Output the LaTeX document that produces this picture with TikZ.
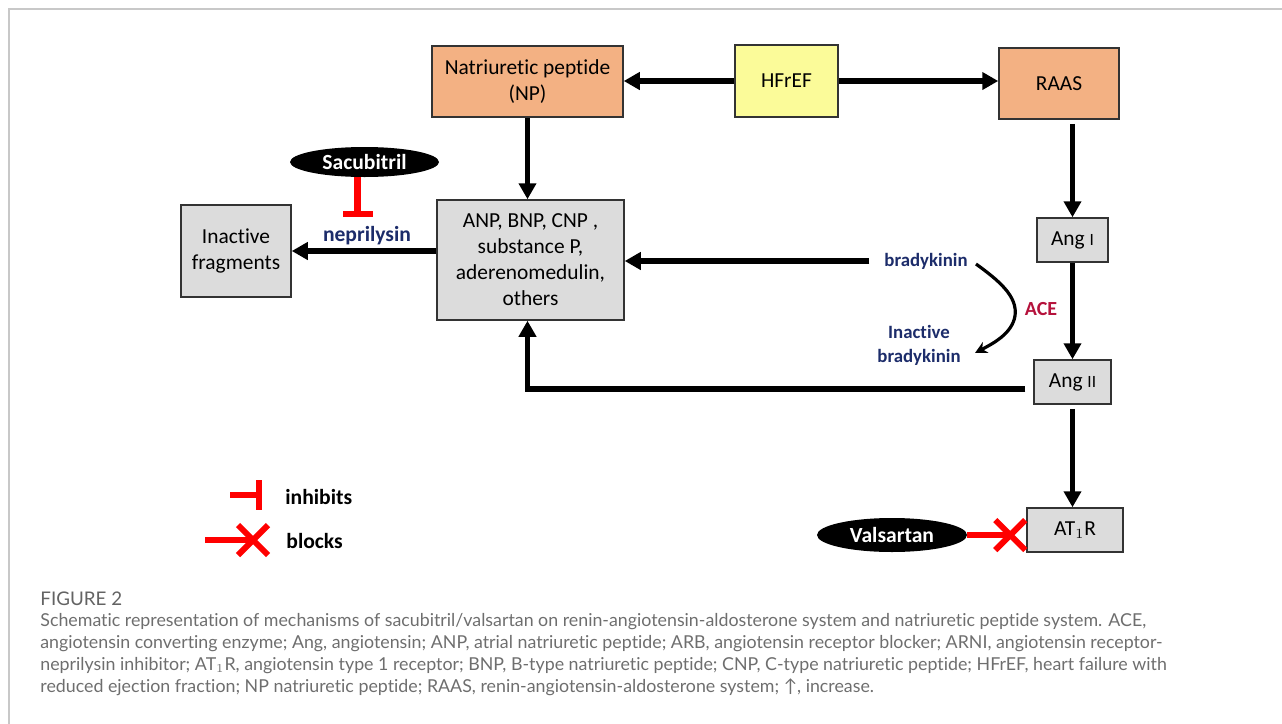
\documentclass[tikz,border=0pt]{standalone}
\usepackage{fontspec}
\setmainfont[Ligatures=NoCommon]{Carlito}
\newfontfamily\capfont[Ligatures=NoCommon]{Lato}
\usepackage{tikz}
\usetikzlibrary{calc}
\usetikzlibrary{arrows.meta}
\usetikzlibrary{shapes.geometric}
\definecolor[named]{BoxOrange}{HTML}{F3B183}
\definecolor[named]{BoxYellow}{HTML}{FBFB99}
\definecolor[named]{BoxGrey}{HTML}{DCDCDC}
\definecolor[named]{LabelNavy}{HTML}{1C2C6A}
\definecolor[named]{LabelCrimson}{HTML}{B5123C}
\definecolor[named]{FrameGrey}{HTML}{C8C8C8}
\definecolor[named]{CaptionGrey}{HTML}{6E6E6E}
\newcommand{\boxfont}{\fontsize{10.7}{13}\selectfont}
\newcommand{\romsmall}[1]{{\fontsize{8.6}{8.6}\selectfont #1}}
\tikzset{stop/.pic={ %{{{
    \draw[red,line width=3pt] (-15,-15) -- (15,15) (-15,15) -- (15,-15);
}}
%}}}
\tikzset{
  flow/.style={line width=2.6pt,-{Triangle[length=8pt,width=8.5pt]}},
  inhib/.style={red,line width=3.2pt,-{Bar[width=15pt]}}
}

\begin{document}
\begin{tikzpicture}[x=0.5pt,y=-0.5pt]
    \useasboundingbox (0,0) rectangle (1282,724);

    % Frame
    \draw[FrameGrey,line width=0.9pt] (9,724) -- (9,9) -- (1282,9);

    % Boxes
    \begin{scope}[every node/.style={draw=black!80,line width=0.75pt,font=\boxfont,align=center,inner sep=0pt}]
      \node[fill=BoxOrange,minimum width=95.5pt,minimum height=35.5pt] (np) at (527.5,81.5) {Natriuretic peptide\\(NP)};
      \node[fill=BoxYellow,minimum width=51.5pt,minimum height=36pt] (hf) at (786.5,81) {HFrEF};
      \node[fill=BoxOrange,minimum width=60pt,minimum height=35.5pt] (raas) at (1059,83.5) {RAAS};
      \node[fill=BoxGrey,minimum width=93.5pt,minimum height=60pt] (pep) at (530.5,260) {ANP, BNP, CNP ,\\substance P,\\aderenomedulin,\\others};
      \node[fill=BoxGrey,minimum width=55pt,minimum height=46pt] (frag) at (236,251) {Inactive\\fragments};
      \node[fill=BoxGrey,minimum width=35.5pt,minimum height=22pt] (angi) at (1072.5,240) {Ang \romsmall{I}};
      \node[fill=BoxGrey,minimum width=38.5pt,minimum height=22pt] (angii) at (1072.5,382) {Ang \romsmall{II}};
      \node[fill=BoxGrey,minimum width=48pt,minimum height=22pt] (at1r) at (1075,530) {AT$_1$R};
    \end{scope}

    % Drugs
    \begin{scope}[every node/.style={ellipse,fill=black,text=white,inner sep=0pt,font=\fontsize{10.8}{12}\selectfont\bfseries}]
      \node[minimum width=74.5pt,minimum height=15pt] (sac) at (364.5,162) {Sacubitril};
      \node[minimum width=75pt,minimum height=17pt] (vals) at (892,535) {Valsartan};
    \end{scope}

    % Labels
    \begin{scope}[every node/.style={text=LabelNavy,align=center,font=\fontsize{9.4}{12}\selectfont\bfseries}]
      \node (brady) at (926,261) {bradykinin};
      \node (inact) at (919,345) {Inactive\\bradykinin};
      \node[font=\fontsize{10.8}{12}\selectfont\bfseries] (nep) at (367,236) {neprilysin};
      \node[text=LabelCrimson,font=\fontsize{10}{12}\selectfont\bfseries] (ace) at (1041,309) {ACE};
    \end{scope}

    % Arrows
    \draw[flow] (hf.west) -- (hf.west -| np.east);
    \draw[flow] (hf.east) -- (hf.east -| raas.west);
    \draw[flow] (np.south) -- (np.south |- pep.north);
    \draw[flow] (frag.east -| pep.west) -- (frag.east);
    \draw[flow] ([xshift=-4pt]brady.west) -- (brady.west -| pep.east);
    \draw[flow,shorten <=2pt] (angi.north |- raas.south) -- (angi.north);
    \draw[flow] (angi.south) -- (angii.north);
    \draw[flow,shorten <=2pt] (angii.south) -- (angii.south |- at1r.north);
    \draw[flow] ([xshift=-4pt,yshift=-3.5pt]angii.west) -| ([xshift=-1.5pt]pep.south);
    \draw[line width=1.6pt,-{Stealth[length=6pt,width=6pt]}]
      (976,264) .. controls (998,280) and (1018,296) .. (1015,316)
                .. controls (1012,334) and (992,344) .. (975,353);

    % Drug actions
    \draw[inhib] ([xshift=-3.5pt]sac.south) coordinate (sacfoot) -- ++(0,40) coordinate (sacbar);
    \draw[red,line width=3pt] (vals.east) -- ([xshift=-8pt]at1r.west |- vals.east) coordinate (valsx) pic{stop};

    % Legend
    \coordinate (inhA) at (230,495);
    \coordinate (inhB) at (262,495);
    \coordinate (blkA) at (205,540);
    \coordinate (blkB) at (253,540);
    \draw[inhib] (inhA) -- (inhB);
    \draw[red,line width=3pt] (blkA) -- (blkB) pic{stop};
    \begin{scope}[every node/.style={anchor=west,inner sep=0pt,font=\fontsize{10.8}{12}\selectfont\bfseries}]
      \node (inhT) at (285,497) {inhibits};
      \node (blkT) at (286,541) {blocks};
    \end{scope}

    % Caption
    \node[anchor=west,inner sep=0pt,text=CaptionGrey!90!black,font=\capfont\fontsize{9.4}{10}\selectfont] (fig) at (40,599) {FIGURE 2};
    \node[anchor=north west,inner sep=0pt,align=left,text=CaptionGrey,font=\capfont\fontsize{8.9}{11}\selectfont] (cap) at (40,613)
      {Schematic representation of mechanisms of sacubitril/valsartan on renin-angiotensin-aldosterone system and natriuretic peptide system. ACE,\\
       angiotensin converting enzyme; Ang, angiotensin; ANP, atrial natriuretic peptide; ARB, angiotensin receptor blocker; ARNI, angiotensin receptor-\\
       neprilysin inhibitor; AT$_1$R, angiotensin type 1 receptor; BNP, B-type natriuretic peptide; CNP, C-type natriuretic peptide; HFrEF, heart failure with\\
       reduced ejection fraction; NP natriuretic peptide; RAAS, renin-angiotensin-aldosterone system; ↑, increase.};

  \end{tikzpicture}
\end{document}
